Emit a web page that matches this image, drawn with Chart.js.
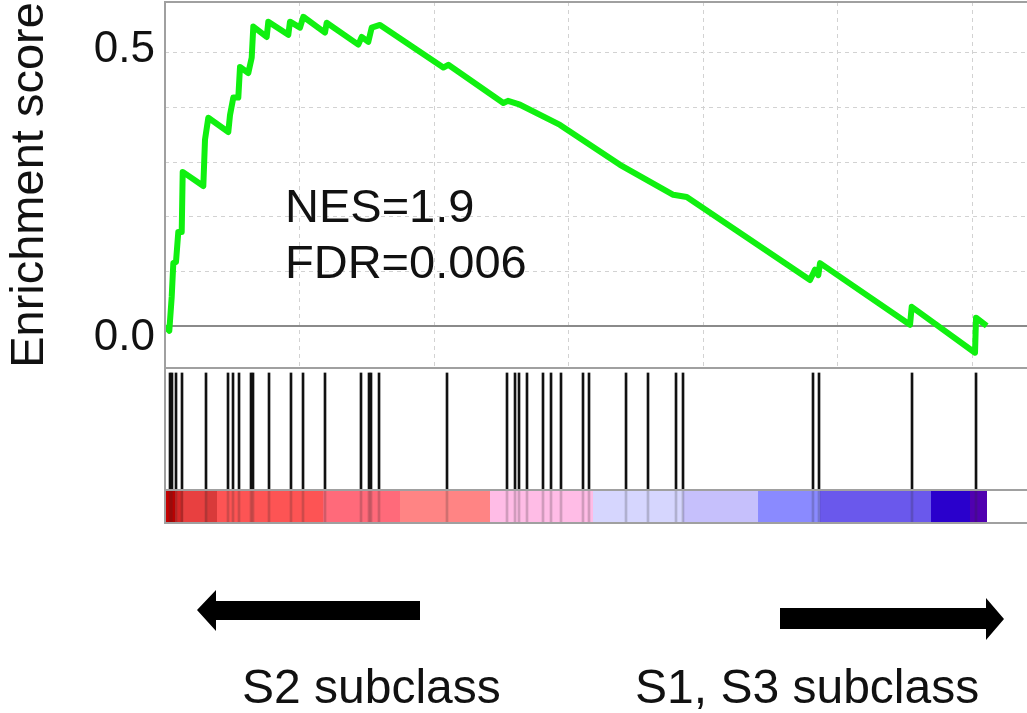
<!DOCTYPE html>
<html>
<head>
<meta charset="utf-8">
<script src="https://cdn.jsdelivr.net/npm/chart.js@4.4.1/dist/chart.umd.min.js"></script>
<style>
  html, body { margin: 0; padding: 0; background: #fff; }
  #wrap { position: relative; width: 1027px; height: 713px; overflow: hidden; }
  #esChart { position: absolute; left: 0; top: 0; }
  #hitChart { position: absolute; left: 0; top: 366px; }
  #labels { position: absolute; left: 0; top: 0; pointer-events: none; }
  #labels text { font-family: "Liberation Sans", Arial, sans-serif; fill: #111; }
</style>
</head>
<body>
<div id="wrap">
  <canvas id="esChart" width="1027" height="370"></canvas>
  <canvas id="hitChart" width="1027" height="159"></canvas>
  <svg id="labels" width="1027" height="713">
    <text x="285" y="222" font-size="47">NES=1.9</text>
    <text x="285" y="278" font-size="47">FDR=0.006</text>
    <polygon points="197,610 216,590 216,601 420,601 420,620 216,620 216,631" fill="#000"/>
    <polygon points="780,608 986,608 986,598 1004,619 986,640 986,629 780,629" fill="#000"/>
    <text x="242" y="703" font-size="48">S2 subclass</text>
    <text x="635" y="703" font-size="48">S1, S3 subclass</text>
  </svg>
</div>
<script>
const FONT = '"Liberation Sans", Arial, sans-serif';

// ranked list, x axis in rank units
const RANK_MAX = 32040;
const X_GRID = [5000, 10000, 15000, 20000, 25000, 30000];
const Y_MIN = -0.077;
const Y_MAX = 0.593;
const Y_TICKS = [0, 0.1, 0.2, 0.3, 0.4, 0.5];

// running enrichment score (vertices)
const ES_RANKS = [0, 160, 249, 309, 409, 494, 621, 658, 1424, 1487, 1610, 2353, 2416, 2539, 2725, 2788,
  3096, 3223, 3282, 3780, 3840, 4583, 4646, 5018, 5141, 5947, 6010, 7185, 7311, 7557, 7683, 7991,
  10344, 10530, 12575, 12749, 13195, 14682, 16912, 18893, 19392, 23975, 24161, 24284, 24346,
  27692, 27755, 30108, 30145, 30543];
const ES_VALUES = [0.000, -0.009, 0.053, 0.115, 0.117, 0.172, 0.172, 0.282, 0.256, 0.341, 0.381, 0.355, 0.386, 0.418, 0.418, 0.474,
  0.463, 0.491, 0.548, 0.529, 0.557, 0.533, 0.557, 0.546, 0.566, 0.537, 0.555, 0.515, 0.529, 0.520, 0.546, 0.551,
  0.473, 0.478, 0.408, 0.412, 0.405, 0.368, 0.295, 0.240, 0.236, 0.084, 0.103, 0.093, 0.115,
  0.002, 0.035, -0.049, 0.015, 0.000];

// positions of gene set members in the ranked list
const HIT_RANKS = [186, 260, 409, 632, 1524, 2342, 2528, 2751, 3197, 3271, 3866, 4683, 5130, 5947,
  7285, 7583, 7657, 7955, 10482, 12712, 13010, 13158, 13455, 14050, 14348, 14719, 15537, 15760,
  17136, 17953, 18994, 19254, 24086, 24309, 27766, 30145];

// ranked metric colour bar
const BAR_EDGES = [0, 372, 669, 1487, 1933, 5873, 8735, 12080, 15909, 19254, 22042, 24346, 28472, 29922, 30554];
const BAR_COLORS = ['#c40000', '#d62828', '#e84040', '#d83a3a', '#fd5454', '#ff6a7a', '#ff8484',
  '#ffbce6', '#d6d6fe', '#c6c0fc', '#8a8aff', '#6a58ec', '#2a00cc', '#5000b0'];
const COLOR_TOP = 0.213;
const HIT_TOP = 0.968;

const framePlugin = {
  id: 'frame',
  afterDatasetsDraw(chart, args, opts) {
    const { ctx, chartArea: a } = chart;
    ctx.save();
    ctx.strokeStyle = '#a0a0a0';
    ctx.lineWidth = 2;
    ctx.beginPath();
    ctx.moveTo(a.right + 2, a.top);
    ctx.lineTo(a.left, a.top);
    ctx.lineTo(a.left, a.bottom);
    ctx.lineTo(a.right + 2, a.bottom);
    if (opts.split != null) {
      const y = chart.scales.y.getPixelForValue(opts.split);
      ctx.moveTo(a.left, y);
      ctx.lineTo(a.right + 2, y);
    }
    ctx.stroke();
    ctx.restore();
  }
};

function noPad(s) {
  s.paddingTop = 0;
  s.paddingBottom = 0;
  s.paddingLeft = 0;
  s.paddingRight = 0;
}

new Chart(document.getElementById('esChart'), {
  type: 'line',
  data: {
    datasets: [{
      data: ES_RANKS.map((r, i) => ({ x: r, y: ES_VALUES[i] })),
      borderColor: '#10f010',
      borderWidth: 6,
      borderJoinStyle: 'round',
      pointRadius: 0,
      tension: 0
    }]
  },
  options: {
    responsive: false,
    animation: false,
    layout: { padding: { top: 2, bottom: 2, left: 0, right: 0 } },
    plugins: { legend: { display: false }, tooltip: { enabled: false }, frame: {} },
    scales: {
      x: {
        type: 'linear',
        min: 0,
        max: RANK_MAX,
        afterBuildTicks: s => { s.ticks = X_GRID.map(v => ({ value: v })); },
        afterFit: s => { s.height = 0; noPad(s); },
        ticks: { display: false },
        grid: { color: '#d2d2d2', lineWidth: 1, drawTicks: false },
        border: { display: false, dash: [4, 4] }
      },
      y: {
        min: Y_MIN,
        max: Y_MAX,
        afterBuildTicks: s => { s.ticks = Y_TICKS.map(v => ({ value: v })); },
        afterFit: s => { s.width = 165; noPad(s); },
        ticks: {
          padding: 10,
          color: '#111',
          font: c => ({ size: 44, family: FONT, lineHeight: c.tick && c.tick.value === 0 ? '24px' : '6px' }),
          callback: v => v === 0 ? ['', '0.0'] : (Math.abs(v - 0.5) < 1e-9 ? ['0.5', ''] : '')
        },
        grid: {
          color: c => c.tick && c.tick.value === 0 ? '#8a8a8a' : '#d2d2d2',
          lineWidth: c => c.tick && c.tick.value === 0 ? 2 : 1,
          drawTicks: false
        },
        border: { display: false, dash: c => c.tick && c.tick.value === 0 ? [] : [4, 4] },
        title: {
          display: true,
          text: 'Enrichment score',
          color: '#111',
          font: { size: 47, family: FONT },
          padding: { top: 2, bottom: 0 }
        }
      }
    }
  },
  plugins: [framePlugin]
});

const segments = BAR_COLORS.map((c, i) => ({
  type: 'line',
  data: [{ x: BAR_EDGES[i], y: COLOR_TOP }, { x: BAR_EDGES[i + 1], y: COLOR_TOP }],
  borderWidth: 0,
  pointRadius: 0,
  fill: 'origin',
  backgroundColor: c,
  order: 2
}));

new Chart(document.getElementById('hitChart'), {
  type: 'bar',
  data: {
    datasets: [
      {
        data: HIT_RANKS.map(r => ({ x: r, y: [COLOR_TOP, HIT_TOP] })),
        backgroundColor: '#111',
        barThickness: 2,
        grouped: false,
        order: 0
      },
      {
        data: HIT_RANKS.map(r => ({ x: r, y: [0, COLOR_TOP] })),
        backgroundColor: 'rgba(40,40,40,0.22)',
        barThickness: 2,
        grouped: false,
        order: 1
      },
      ...segments
    ]
  },
  options: {
    responsive: false,
    animation: false,
    layout: { padding: { top: 2, bottom: 2, left: 0, right: 0 } },
    plugins: { legend: { display: false }, tooltip: { enabled: false }, frame: { split: COLOR_TOP } },
    scales: {
      x: {
        type: 'linear',
        offset: false,
        min: 0,
        max: RANK_MAX,
        afterFit: s => { s.height = 0; noPad(s); },
        ticks: { display: false },
        grid: { display: false, offset: false },
        border: { display: false }
      },
      y: {
        min: 0,
        max: 1,
        afterFit: s => { s.width = 165; noPad(s); },
        ticks: { display: false },
        grid: { display: false },
        border: { display: false }
      }
    }
  },
  plugins: [framePlugin]
});
</script>
</body>
</html>
